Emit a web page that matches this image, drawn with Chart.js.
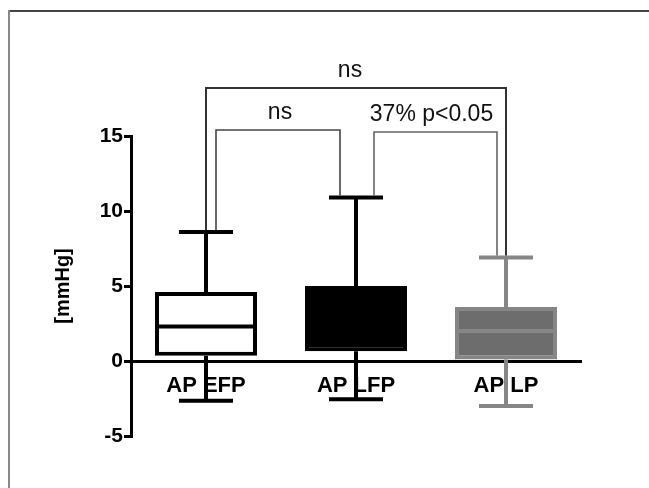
<!DOCTYPE html>
<html>
<head>
<meta charset="utf-8">
<script src="https://cdn.jsdelivr.net/npm/chart.js@4"></script>
<style>
    html, body { margin: 0; padding: 0; background: #fff; overflow: hidden; }
    canvas { display: block; }
</style>
</head>
<body>
<canvas id="chart" width="649" height="488"></canvas>
<script>
// box plot values [mmHg]
const labels = ['AP EFP', 'AP LFP', 'AP LP'];
const whiskerLow = [-2.65, -2.55, -3.0];
const q1 = [0.35, 0.65, 0.1];
const median = [2.3, 2.8, 2.0];
const q3 = [4.6, 5.0, 3.6];
const whiskerHigh = [8.6, 10.9, 6.9];
const yTicks = [-5, 0, 5, 10, 15];

// significance brackets: pairs of categories and their text
const bracketPairs = [[0, 2], [0, 1], [1, 2]];
const bracketLabels = ['ns', 'ns', '37% p<0.05'];

const fillColors = ['#ffffff', '#000000', '#6d6d6d'];
const lineColors = ['#000000', '#000000', '#868686'];
const FONT = "'Liberation Sans', Arial, sans-serif";

// pixel layout of the brackets (line height above axis top, end offsets)
const bracketLayout = [
    { lift: 48, dx0: 0, dx1: 0, color: '#333', width: 2, tx: -6 },
    { lift: 6, dx0: 10, dx1: -16, color: '#444', width: 1.6, tx: 2 },
    { lift: 4, dx0: 18, dx1: -9, color: '#666', width: 1.6, tx: -4 }
];

const boxPlugin = {
    id: 'boxParts',
    beforeDraw(chart) {
        // thin frame round the figure, open to the right and bottom
        const ctx = chart.ctx;
        ctx.save();
        ctx.lineWidth = 2;
        ctx.strokeStyle = '#444';
        ctx.beginPath();
        ctx.moveTo(8, 11);
        ctx.lineTo(chart.width, 11);
        ctx.stroke();
        ctx.strokeStyle = '#888';
        ctx.beginPath();
        ctx.moveTo(9, 10);
        ctx.lineTo(9, chart.height);
        ctx.stroke();
        ctx.restore();
    },
    beforeDatasetsDraw(chart) {
        const ctx = chart.ctx;
        const x = chart.scales.x, y = chart.scales.y;
        ctx.save();
        ctx.lineWidth = 4;
        labels.forEach(function (lab, i) {
            const cx = x.getPixelForValue(i);
            ctx.strokeStyle = lineColors[i];
            ctx.beginPath();
            ctx.moveTo(cx, y.getPixelForValue(whiskerHigh[i]));
            ctx.lineTo(cx, y.getPixelForValue(q3[i]));
            ctx.moveTo(cx, y.getPixelForValue(q1[i]));
            ctx.lineTo(cx, y.getPixelForValue(whiskerLow[i]));
            [whiskerHigh[i], whiskerLow[i]].forEach(function (v) {
                const py = y.getPixelForValue(v);
                ctx.moveTo(cx - 27, py);
                ctx.lineTo(cx + 27, py);
            });
            ctx.stroke();
        });
        ctx.restore();
    },
    afterDatasetsDraw(chart) {
        const ctx = chart.ctx;
        const y = chart.scales.y;
        const meta = chart.getDatasetMeta(0);
        ctx.save();
        ctx.lineWidth = 4;
        meta.data.forEach(function (bar, i) {
            const p = bar.getProps(['x', 'width'], true);
            const py = y.getPixelForValue(median[i]);
            ctx.strokeStyle = lineColors[i];
            ctx.beginPath();
            ctx.moveTo(p.x - p.width / 2 + 2, py);
            ctx.lineTo(p.x + p.width / 2 - 2, py);
            ctx.stroke();
        });
        ctx.restore();
    },
    afterDraw(chart) {
        const ctx = chart.ctx;
        const x = chart.scales.x, y = chart.scales.y;
        const top = y.getPixelForValue(15);
        ctx.save();
        ctx.font = '23px ' + FONT;
        ctx.textAlign = 'center';
        ctx.textBaseline = 'alphabetic';
        bracketPairs.forEach(function (pair, k) {
            const st = bracketLayout[k];
            const x0 = x.getPixelForValue(pair[0]) + st.dx0;
            const x1 = x.getPixelForValue(pair[1]) + st.dx1;
            const ly = top - st.lift;
            ctx.strokeStyle = st.color;
            ctx.lineWidth = st.width;
            ctx.beginPath();
            ctx.moveTo(x0, y.getPixelForValue(whiskerHigh[pair[0]]) - 2);
            ctx.lineTo(x0, ly);
            ctx.lineTo(x1, ly);
            ctx.lineTo(x1, y.getPixelForValue(whiskerHigh[pair[1]]) - 2);
            ctx.stroke();
            ctx.fillStyle = '#111';
            ctx.fillText(bracketLabels[k], (x0 + x1) / 2 + st.tx, ly - 11);
        });
        ctx.restore();
    }
};

const ctx = document.getElementById('chart').getContext('2d');
new Chart(ctx, {
    type: 'bar',
    data: {
        labels: labels,
        datasets: [{
            data: labels.map(function (l, i) { return [q1[i], q3[i]]; }),
            backgroundColor: fillColors,
            borderColor: lineColors,
            borderWidth: 4,
            borderSkipped: false,
            barPercentage: 0.68,
            categoryPercentage: 1
        }]
    },
    options: {
        responsive: false,
        animation: false,
        layout: { padding: { left: 51, top: 136, right: 68, bottom: 52 } },
        plugins: { legend: { display: false }, tooltip: { enabled: false } },
        scales: {
            x: {
                position: { y: 0 },
                grid: { display: false, drawTicks: false },
                border: { display: true, color: '#000', width: 3 },
                ticks: { color: '#000', padding: 12, font: { family: FONT, size: 22, weight: 'bold' } }
            },
            y: {
                min: -5,
                max: 15,
                afterFit: function (scale) { scale.width = 80; },
                afterBuildTicks: function (scale) {
                    scale.ticks = yTicks.map(function (v) { return { value: v }; });
                },
                grid: { drawOnChartArea: false, drawTicks: true, tickLength: 7, color: '#000', lineWidth: 3 },
                border: { color: '#000', width: 3 },
                ticks: { color: '#000', padding: 1, font: { family: FONT, size: 21, weight: 'bold' } },
                title: {
                    display: true, text: '[mmHg]', color: '#000', padding: 0,
                    font: { family: FONT, size: 20, weight: 'bold' }
                }
            }
        }
    },
    plugins: [boxPlugin]
});
</script>
</body>
</html>
